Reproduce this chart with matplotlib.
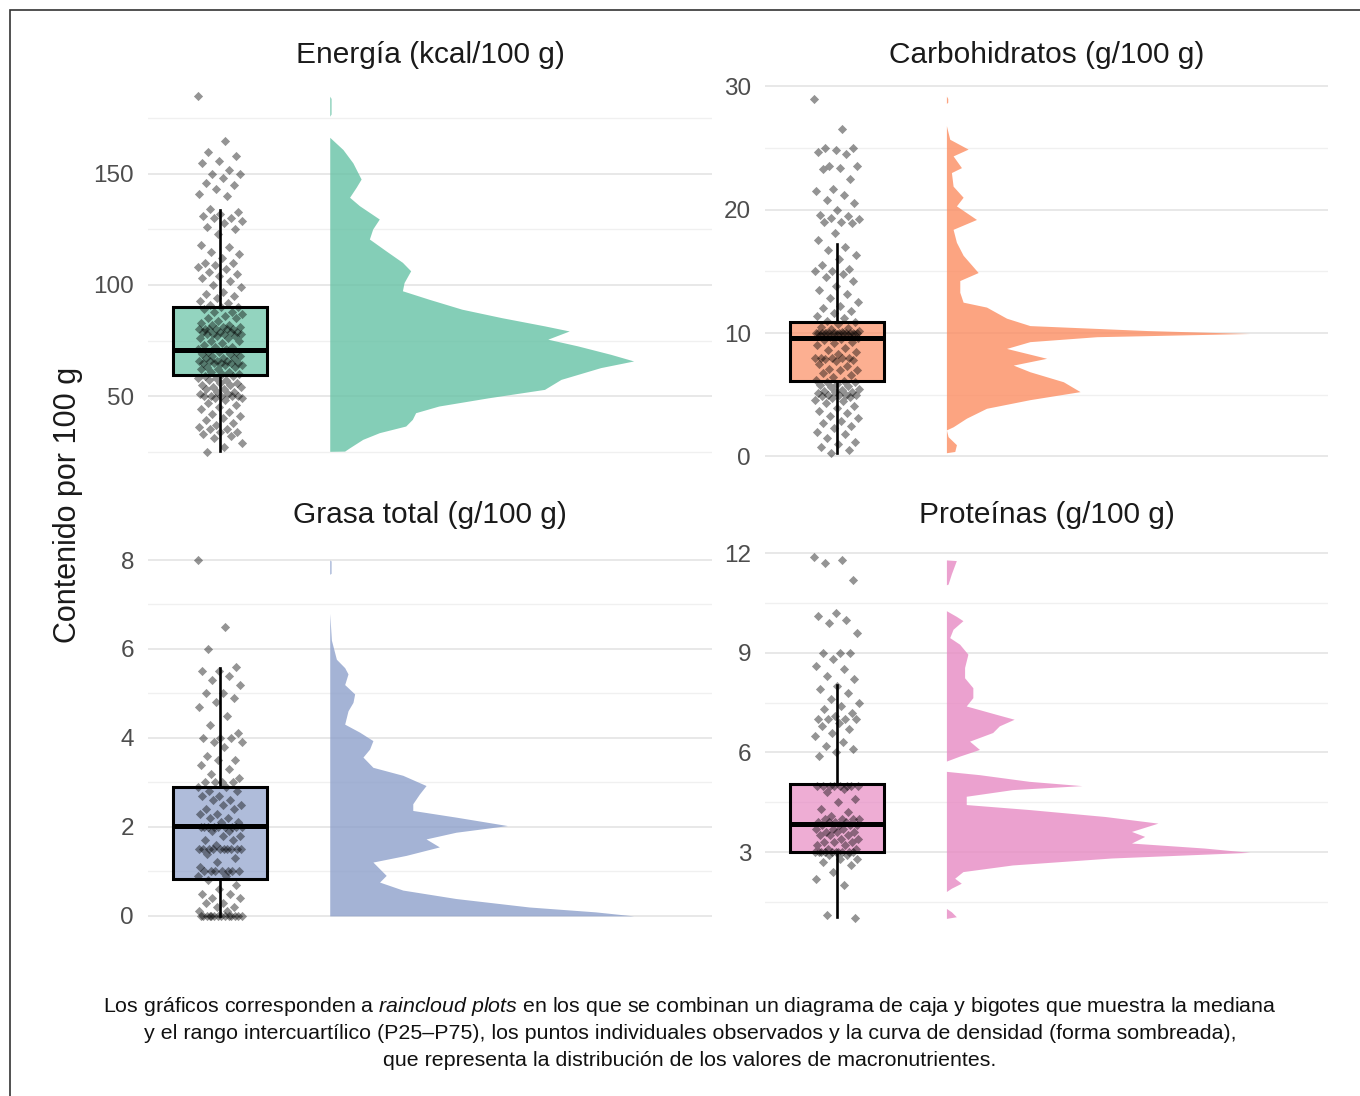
import numpy as np
import matplotlib
matplotlib.use("Agg")
import matplotlib.pyplot as plt
from matplotlib import font_manager
from matplotlib.colors import to_rgba
from matplotlib.patches import Rectangle

names = {f.name for f in font_manager.fontManager.ttflist}
CAP_FONT = "Liberation Sans Narrow" if "Liberation Sans Narrow" in names else "Liberation Sans"

plt.rcParams.update({
    "font.family": "Liberation Sans",
    "mathtext.fontset": "custom",
    "mathtext.rm": CAP_FONT,
    "mathtext.it": CAP_FONT + ":italic",
})

# ---- data ----
titles = ["Energía (kcal/100 g)", "Carbohidratos (g/100 g)",
          "Grasa total (g/100 g)", "Proteínas (g/100 g)"]
colors = ["#66C2A5", "#FC8D62", "#8DA0CB", "#E78AC3"]

energia = [185, 165, 160, 158, 156, 155, 152, 150, 150, 148, 146, 145, 143, 141, 140,
           134, 133, 132, 131, 130, 130, 129, 128, 126, 125, 123, 118, 117, 115, 114, 112,
           110, 110, 109, 108, 107, 106, 105, 104, 103, 102, 100, 99, 97, 96, 95, 94, 93, 92,
           91, 90, 90, 89, 88, 88, 87, 86, 85, 85, 84, 83, 82, 82, 81, 81, 80, 80, 80, 80,
           80, 80, 79, 79, 79, 79, 78, 78, 78, 78, 77, 77, 76, 76, 75, 75, 74, 73, 72, 72,
           71, 71, 70, 70, 70, 69, 69, 68, 68, 67, 67, 67, 66, 66, 66, 66, 65, 65, 65, 65,
           65, 64, 64, 63, 63, 62, 62, 61, 61, 60, 60, 59, 59, 58, 58, 57, 57, 56, 56, 55,
           55, 54, 54, 53, 53, 52, 52, 51, 51, 50, 50, 50, 50, 50, 49, 49, 48, 47, 46, 45,
           44, 43, 42, 41, 40, 39, 38, 37, 36, 35, 35, 34, 34, 33, 32, 31, 29, 27, 25]
carbohidratos = [29, 26.5, 25, 25, 24.8, 24.7, 24.5, 23.5, 23.5, 23.4, 23.3, 22.5, 21.7,
                 21.5, 21.2, 20.8, 20.5, 20, 19.6, 19.5, 19.3, 19.2, 19, 19, 18.9, 18.1,
                 17.5, 17, 16.7, 16.3, 16, 15.5, 15.2, 15, 15, 14.8, 14.5, 14.2, 13.8, 13.5,
                 13.2, 12.8, 12.5, 12.2, 12, 11.8, 11.6, 11.4, 11.2, 11, 10.9, 10.7, 10.5,
                 10.4, 10.3, 10.2, 10.1, 10, 10, 10, 10, 10, 10, 10, 10, 10, 10, 10, 10, 10,
                 10, 9.9, 9.9, 9.8, 9.8, 9.7, 9.6, 9.5, 9.4, 9.3, 9.2, 9.0, 8.8, 8.6, 8.5,
                 8.3, 8.0, 8.0, 8.0, 8.0, 8.0, 7.9, 7.8, 7.7, 7.5, 7.3, 7.1, 7.0, 7.0, 6.8,
                 6.6, 6.4, 6.2, 6.1, 6.0, 6.0, 5.9, 5.8, 5.7, 5.6, 5.5, 5.4, 5.3, 5.2, 5.2,
                 5.1, 5.0, 5.0, 5.0, 5.0, 4.9, 4.8, 4.7, 4.6, 4.5, 4.3, 4.1, 3.9, 3.7, 3.5,
                 3.3, 3.1, 2.9, 2.7, 2.5, 2.3, 2.0, 1.8, 1.5, 1.2, 1.0, 0.8, 0.5, 0.3]
grasa = [8.0, 6.5, 6.0, 5.6, 5.5, 5.5, 5.4, 5.3, 5.2, 5.0, 5.0, 4.9, 4.8, 4.7, 4.5, 4.3,
         4.1, 4.0, 4.0, 4.0, 3.9, 3.9, 3.8, 3.6, 3.5, 3.5, 3.4, 3.3, 3.2, 3.1, 3.0, 3.0,
         3.0, 3.0, 2.9, 2.9, 2.8, 2.8, 2.7, 2.7, 2.6, 2.6, 2.5, 2.5, 2.4, 2.4, 2.3, 2.3,
         2.2, 2.2, 2.1, 2.1, 2.0, 2.0, 2.0, 2.0, 2.0, 2.0, 2.0, 2.0, 2.0, 1.9, 1.9, 1.8,
         1.8, 1.7, 1.7, 1.6, 1.5, 1.5, 1.5, 1.5, 1.5, 1.5, 1.5, 1.5, 1.5, 1.5, 1.4, 1.3,
         1.2, 1.1, 1.0, 1.0, 1.0, 1.0, 1.0, 1.0, 1.0, 0.9, 0.9, 0.8, 0.7, 0.6, 0.5, 0.5,
         0.4, 0.4, 0.3, 0.3, 0.2, 0.2, 0.1, 0.1, 0.0, 0.0, 0.0, 0.0, 0.0, 0.0, 0.0, 0.0,
         0.0, 0.0, 0.0, 0.0, 0.0, 0.0]
proteinas = [11.9, 11.8, 11.7, 11.2, 10.2, 10.1, 10.0, 9.9, 9.6, 9.0, 9.0, 9.0, 8.8, 8.6,
             8.5, 8.3, 8.2, 8.0, 7.9, 7.8, 7.6, 7.5, 7.4, 7.3, 7.2, 7.1, 7.0, 7.0, 7.0,
             7.0, 6.9, 6.8, 6.7, 6.6, 6.5, 6.3, 6.2, 6.1, 6.0, 5.9, 5.0, 5.0, 5.0, 5.0,
             5.0, 5.0, 5.0, 5.0, 4.9, 4.8, 4.6, 4.5, 4.3, 4.2, 4.1, 4.0, 4.0, 4.0, 4.0,
             3.9, 3.9, 3.9, 3.9, 3.8, 3.8, 3.8, 3.8, 3.7, 3.7, 3.7, 3.6, 3.6, 3.6, 3.5,
             3.5, 3.5, 3.4, 3.4, 3.3, 3.3, 3.3, 3.2, 3.2, 3.1, 3.1, 3.0, 3.0, 3.0, 3.0,
             3.0, 3.0, 3.0, 3.0, 3.0, 3.0, 2.9, 2.9, 2.8, 2.8, 2.7, 2.6, 2.4, 2.2, 2.0,
             1.1, 1.0]

# box stats: whislo, q1, med, q3, whishi
box_stats = [
    [25.2, 59.5, 70.7, 90.0, 133.8],
    [0.3, 6.1, 9.57, 10.9, 17.2],
    [0.0, 0.84, 2.02, 2.89, 5.58],
    [1.05, 3.0, 3.83, 5.04, 8.02],
]

# density outline (value, relative width)
ener_dens_y = [185, 184, 177, 176, 166.5, 161, 155, 147.7, 144, 139.5, 135.7, 129.7, 125.2,
               120.7, 115.4, 110.2, 106.4, 101.1, 97.4, 93.6, 89.1, 85.3, 81.6, 79.3, 75.6,
               72.6, 68.8, 65.8, 62.8, 57.5, 53, 49.2, 45.5, 42.5, 39.5, 36.5, 33.5, 30.5,
               26.7, 25.2, 25.1]
ener_dens_w = [0, 4, 4, 0, 0, 40, 70, 95, 80, 60, 90, 150, 130, 120, 170, 220, 245, 225,
               220, 300, 400, 520, 650, 725, 660, 750, 850, 920, 820, 700, 650, 480, 330,
               260, 250, 230, 150, 100, 60, 45, 0]
carb_dens_y = [29.2, 29.0, 28.7, 28.6, 26.8, 25.7, 24.9, 24.35, 23.4, 23.0, 21.9, 21.0,
               20.3, 19.2, 18.4, 17.35, 16.3, 14.9, 14.25, 13.3, 12.5, 12.1, 11.2, 10.6,
               10.2, 9.96, 9.7, 9.3, 8.75, 7.95, 7.4, 6.86, 6.05, 5.25, 4.6, 3.9, 3.1, 2.4,
               2.15, 1.6, 0.95, 0.4, 0.3]
carb_dens_w = [0, 4, 4, 0, 0, 10, 65, 20, 45, 15, 20, 50, 30, 90, 20, 30, 50, 95, 40, 40,
               50, 120, 180, 250, 600, 908, 450, 250, 180, 300, 200, 250, 350, 400, 250,
               120, 60, 20, 0, 5, 30, 25, 0]
fat_dens_y = [8.0, 7.98, 7.7, 7.68, 6.8, 6.2, 5.77, 5.58, 5.44, 5.2, 4.99, 4.8, 4.61, 4.31,
              4.13, 3.94, 3.75, 3.57, 3.34, 3.16, 2.93, 2.74, 2.52, 2.37, 2.22, 2.03, 1.88,
              1.73, 1.55, 1.36, 1.21, 1.06, 0.91, 0.76, 0.58, 0.39, 0.2, 0.09, 0.0]
fat_dens_w = [0, 4, 4, 0, 0, 5, 20, 45, 55, 45, 75, 70, 55, 45, 90, 130, 120, 100, 130,
              220, 290, 270, 250, 250, 380, 535, 380, 290, 330, 230, 130, 150, 170, 150,
              220, 380, 600, 800, 915]
prot_dens_y = [11.8, 11.78, 11.38, 11.07, 11.05, 10.27, 10.1, 9.97, 9.71, 9.46, 9.26, 8.96,
               8.56, 8.25, 7.95, 7.65, 7.4, 7.15, 7.0, 6.8, 6.6, 6.34, 6.09, 5.89, 5.74,
               5.43, 5.33, 5.13, 5.0, 4.88, 4.68, 4.43, 4.28, 4.07, 3.87, 3.62, 3.47, 3.27,
               3.12, 2.99, 2.82, 2.61, 2.41, 2.21, 2.06, 1.91, 1.81, 1.3, 1.2, 1.05, 1.0]
prot_dens_w = [0, 30, 15, 5, 0, 0, 30, 50, 20, 10, 40, 65, 55, 55, 80, 80, 60, 150, 205,
               160, 140, 70, 100, 40, 0, 0, 100, 250, 410, 200, 60, 60, 250, 480, 640, 560,
               600, 560, 780, 918, 500, 200, 50, 25, 45, 15, 0, 0, 15, 30, 0]

values = [energia, carbohidratos, grasa, proteinas]
dens = [(ener_dens_y, ener_dens_w), (carb_dens_y, carb_dens_w),
        (fat_dens_y, fat_dens_w), (prot_dens_y, prot_dens_w)]
ylims = [(16.7, 192.3), (-1.1, 30.5), (-0.43, 8.45), (0.5, 12.4)]
major = [[50, 100, 150], [0, 10, 20, 30], [0, 2, 4, 6, 8], [3, 6, 9, 12]]
minor = [[25, 75, 125, 175], [5, 15, 25], [1, 3, 5, 7], [1.5, 4.5, 7.5, 10.5]]

# ---- layout (pixel boxes of the reference) ----
W, H = 1360, 1096
fig = plt.figure(figsize=(W / 100, H / 100), dpi=100)
boxes = [(148, 80, 712, 470), (765, 80, 1328, 470),
         (148, 540, 712, 935), (765, 540, 1328, 935)]

BOX_X = 1.0
BOX_W = 0.3
DENS_X = 1.35
DENS_MAXW = 0.97
JIT = 0.072

for i in range(4):
    x0, y0, x1, y1 = boxes[i]
    ax = fig.add_axes((x0 / W, 1 - y1 / H, (x1 - x0) / W, (y1 - y0) / H))
    col = colors[i]

    # density half-violin
    dy, dw = dens[i]
    dw = np.array(dw, dtype=float)
    ax.fill_betweenx(dy, DENS_X, DENS_X + dw / dw.max() * DENS_MAXW,
                     color=to_rgba(col, 0.8), lw=0, zorder=2)

    # box
    lo, q1, med, q3, hi = box_stats[i]
    st = [dict(whislo=lo, q1=q1, med=med, q3=q3, whishi=hi, fliers=[])]
    ax.bxp(st, positions=[BOX_X], widths=BOX_W, patch_artist=True, showcaps=False,
           boxprops=dict(facecolor=to_rgba(col, 0.7), edgecolor="black", linewidth=2.2),
           medianprops=dict(color="black", linewidth=3.6),
           whiskerprops=dict(color="black", linewidth=1.9), manage_ticks=False,
           zorder=3)

    # jittered points
    v = np.array(values[i], dtype=float)
    off = ((np.arange(len(v)) * 0.618034) % 1 - 0.5) * 2 * JIT
    ax.scatter(BOX_X + off, v, marker="D", s=22, color="black", alpha=0.42,
               linewidths=0, zorder=4)

    ax.set_xlim(0.77, 2.57)
    ax.set_ylim(*ylims[i])
    ax.set_yticks(major[i])
    ax.set_yticks(minor[i], minor=True)
    ax.set_xticks([])
    ax.grid(which="major", axis="y", color="#e6e6e6", linewidth=1.3, zorder=0)
    ax.grid(which="minor", axis="y", color="#f0f0f0", linewidth=1.0, zorder=0)
    ax.set_axisbelow(True)
    for s in ax.spines.values():
        s.set_visible(False)
    ax.tick_params(axis="y", which="both", length=0, pad=10, labelsize=17.5,
                   labelcolor="#4D4D4D")
    ax.set_title(titles[i], fontsize=21.5, color="#1a1a1a", pad=12)

fig.text(68 / W, 1 - 505 / H, "Contenido por 100 g", rotation=90, fontsize=22,
         color="#1a1a1a", ha="center", va="center")

caption = [
    r"Los gráficos corresponden a $\mathit{raincloud\ plots}$ en los que se combinan un "
    r"diagrama de caja y bigotes que muestra la mediana",
    "y el rango intercuartílico (P25–P75), los puntos individuales observados y la curva "
    "de densidad (forma sombreada),",
    "que representa la distribución de los valores de macronutrientes.",
]
for k, line in enumerate(caption):
    fig.text(690 / W, 1 - (1007 + 26.5 * k) / H, line, fontsize=15.4, family=CAP_FONT,
             ha="center", va="center", color="#111111")

fig.patches.append(Rectangle((10 / W, -0.01), 2, 1 - 10 / H + 0.01, transform=fig.transFigure,
                             fill=False, edgecolor="#333333", linewidth=1.2))

fig.savefig("out.png", dpi=100)
